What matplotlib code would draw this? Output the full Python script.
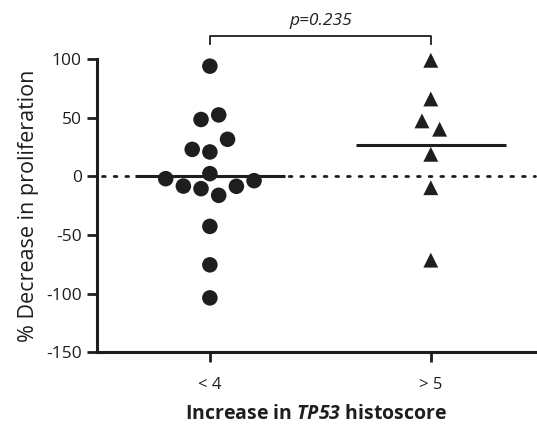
import numpy as np
import matplotlib
matplotlib.use("Agg")
import matplotlib.pyplot as plt

plt.rcParams['font.family'] = ['Open Sans', 'DejaVu Sans']
plt.rcParams['mathtext.fontset'] = 'custom'
plt.rcParams['mathtext.bfit'] = 'Open Sans:bold:italic'
plt.rcParams['mathtext.rm'] = 'Open Sans'

categories = ['< 4', '> 5']
# % decrease in proliferation per sample
low_vals = [94, 48.5, 52.4, 31.6, 23, 20.8, 2.3, -2, -3.7, -8.3, -8.5,
            -10.5, -16.2, -42.7, -75.5, -103.7]
low_offsets = [0, -0.04, 0.04, 0.08, -0.08, 0, 0, -0.2, 0.2, -0.12, 0.12,
               -0.04, 0.04, 0, 0, 0]
high_vals = [99, 66, 47.3, 40.2, 18.8, -9.7, -71.5]
high_offsets = [0, 0, -0.04, 0.04, 0, 0, 0]
p_text = 'p=0.235'
yticks = [-150, -100, -50, 0, 50, 100]

ink = '#1e1e1e'
fig = plt.figure(figsize=(5.37, 4.38), dpi=100)
ax = fig.add_axes([0.1806, 0.196, 0.815, 0.669])

ax.set_xlim(-0.511, 1.47)
ax.set_ylim(-150, 100)

# zero reference line
ax.plot([-0.49, 1.47], [0, 0], linestyle=(0, (1, 3.2)), color=ink, lw=2.0,
        dash_capstyle='round', clip_on=False, zorder=1)

ax.scatter(np.array(low_offsets) + 0, low_vals, s=125, marker='o', color=ink,
           edgecolors='none', clip_on=False, zorder=3)
ax.scatter(np.array(high_offsets) + 1, high_vals, s=115, marker='^', color=ink,
           edgecolors='none', clip_on=False, zorder=3)

# group means
for i, vals in enumerate([low_vals, high_vals]):
    m = np.mean(vals)
    ax.plot([i - 0.34, i + 0.34], [m, m], color=ink, lw=2.2, zorder=2,
            solid_capstyle='butt')

# significance bracket
ax.plot([0, 0, 1, 1], [113, 120, 120, 113], color=ink, lw=1.3,
        clip_on=False)
ax.text(0.5, 126, p_text, style='italic', fontsize=12.5, color=ink,
        ha='center', va='bottom')

ax.set_xticks([0, 1])
ax.set_xticklabels(categories, fontsize=12, color=ink)
ax.set_yticks(yticks)
ax.set_yticklabels([str(t) for t in yticks], fontsize=12.5, color=ink)
ax.tick_params(axis='both', direction='out', length=7, width=2.0, color=ink,
               pad=4)
ax.tick_params(axis='x', pad=11)

for s in ['top', 'right']:
    ax.spines[s].set_visible(False)
for s in ['left', 'bottom']:
    ax.spines[s].set_linewidth(2.2)
    ax.spines[s].set_color(ink)

ax.set_ylabel('% Decrease in proliferation', fontsize=15.5, color=ink,
              labelpad=5)
ax.set_xlabel(r'Increase in $\mathbfit{TP53}$ histoscore', fontsize=14,
              fontweight='bold', color=ink, labelpad=8)

fig.savefig('out.png', dpi=100)
